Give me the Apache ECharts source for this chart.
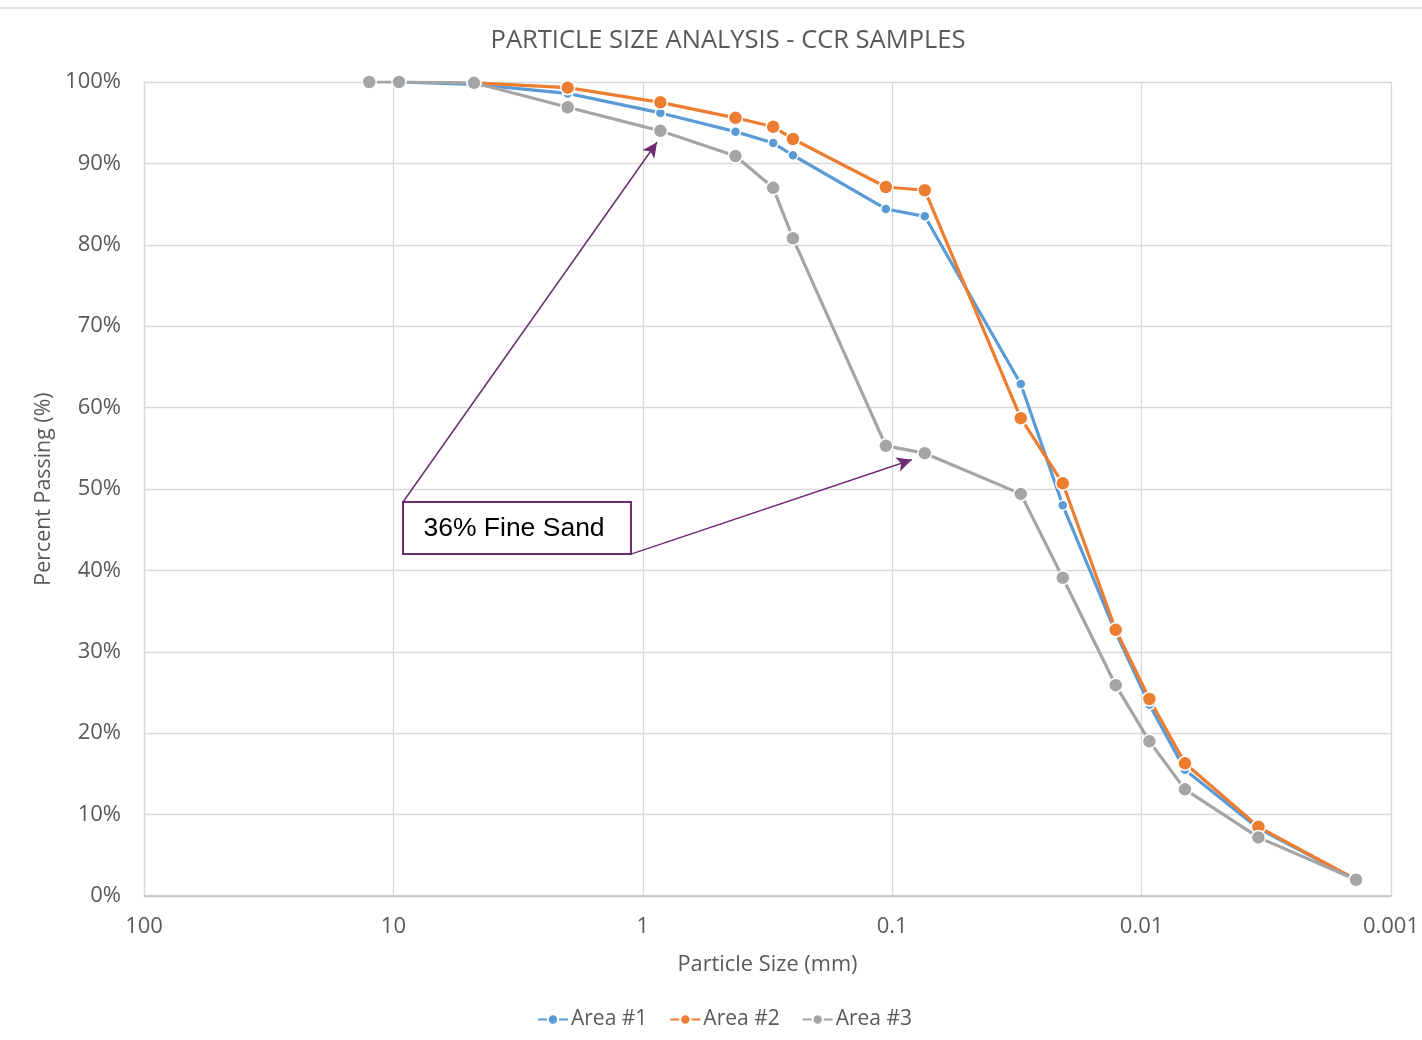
<!DOCTYPE html>
<html>
<head>
<meta charset="utf-8">
<script src="https://cdn.jsdelivr.net/npm/echarts@6/dist/echarts.min.js"></script>
<style>
html,body{margin:0;padding:0;background:#fff;}
#chart{width:1422px;height:1040px;}
</style>
</head>
<body>
<div id="chart"></div>
<script>
// Particle sizes (mm)
const sizes = [12.5, 9.5, 4.75, 2.0, 0.85, 0.425, 0.3, 0.25, 0.106, 0.074, 0.0305, 0.0207, 0.0127, 0.0093, 0.0067, 0.0034, 0.00138];
// Percent passing
const area1 = [null, 100, 99.7, 98.6, 96.2, 93.9, 92.5, 91.0, 84.4, 83.5, 62.9, 48.0, 32.4, 23.5, 15.5, 8.3, 2.0];
const area2 = [null, null, 99.9, 99.3, 97.5, 95.6, 94.5, 93.0, 87.1, 86.7, 58.7, 50.7, 32.7, 24.2, 16.3, 8.5, 2.0];
const area3 = [100, 100, 99.9, 96.9, 94.0, 90.9, 87.0, 80.8, 55.3, 54.4, 49.4, 39.1, 25.9, 19.0, 13.1, 7.2, 2.0];
const seriesNames = ['Area #1', 'Area #2', 'Area #3'];
const xTickLabels = {'100':'100','10':'10','1':'1','0.1':'0.1','0.01':'0.01','0.001':'0.001'};
// Annotation anchor points (data coordinates: size mm, percent)
const noteBoxFrom = [9.15, 48.4];
const noteBoxTo = [1.115, 42.0];
const arrow1Tip = [0.877, 92.6];
const arrow2Tip = [0.0834, 53.6];
const noteText = '36% Fine Sand';

const colors = ['#5B9BD5', '#ED7D31', '#A5A5A5'];
const FONT = 'Open Sans';
const pairs = vals => sizes.map((s, i) => [s, vals[i]]).filter(p => p[1] !== null);

const chart = echarts.init(document.getElementById('chart'), null, {renderer: 'canvas'});
const mkSeries = (name, vals, color, size) => ({
  name, type: 'line', data: pairs(vals),
  symbol: 'circle', symbolSize: size, showAllSymbol: true,
  lineStyle: {color, width: 3.2},
  itemStyle: {color, borderColor: '#fff', borderWidth: 1.5},
  emphasis: {disabled: true},
  animation: false
});
const s1 = mkSeries(seriesNames[0], area1, colors[0], 10);
const s2 = mkSeries(seriesNames[1], area2, colors[1], 14);
const s3 = mkSeries(seriesNames[2], area3, colors[2], 14);
s3.markLine = {
  silent: true, animation: false,
  symbol: ['none', 'arrow'], symbolSize: [11, 15],
  label: {show: false},
  lineStyle: {color: '#6B2C72', width: 1.5, type: 'solid'},
  data: [
    [{coord: [noteBoxFrom[0], noteBoxFrom[1]]}, {coord: arrow1Tip}],
    [{coord: [noteBoxTo[0], noteBoxTo[1]]}, {coord: arrow2Tip}]
  ]
};
s3.markArea = {
  silent: true, animation: false,
  itemStyle: {color: '#fff', borderColor: '#6B2C72', borderWidth: 2},
  label: {show: true, position: 'inside', color: '#000', fontFamily: 'Liberation Sans', fontSize: 26.5, offset: [-3, 1]},
  data: [[{coord: noteBoxFrom, name: noteText}, {coord: noteBoxTo}]]
};

chart.setOption({
  backgroundColor: '#fff',
  color: colors,
  animation: false,
  title: {
    text: 'PARTICLE SIZE ANALYSIS - CCR SAMPLES',
    top: 23, left: 723, textAlign: 'center',
    textStyle: {fontFamily: FONT, fontSize: 25.5, fontWeight: 'normal', color: '#595959'}
  },
  legend: {
    bottom: 5, left: 532,
    itemWidth: 30, itemHeight: 13, itemGap: 22,
    textStyle: {fontFamily: FONT, fontSize: 21, color: '#595959', padding: [0, 0, 0, -2]},
    data: seriesNames
  },
  grid: {left: 144, right: 31, top: 82, bottom: 144, containLabel: false},
  xAxis: {
    type: 'log', logBase: 10, inverse: true, min: 0.001, max: 100,
    name: 'Particle Size (mm)', nameLocation: 'middle', nameGap: 58,
    nameTextStyle: {fontFamily: FONT, fontSize: 21.8, color: '#595959'},
    axisLine: {show: true, lineStyle: {color: '#bfbfbf', width: 1.5}},
    axisTick: {show: false},
    axisLabel: {
      fontFamily: FONT, fontSize: 22, color: '#595959', margin: 20,
      formatter: v => { const k = String(+v.toPrecision(3)); return xTickLabels[k] !== undefined ? xTickLabels[k] : k; }
    },
    splitLine: {show: true, lineStyle: {color: '#d9d9d9', width: 1.3}}
  },
  yAxis: {
    type: 'value', min: 0, max: 100, interval: 10,
    name: 'Percent Passing (%)', nameLocation: 'middle', nameGap: 86,
    nameTextStyle: {fontFamily: FONT, fontSize: 21.4, color: '#595959'},
    axisLine: {show: true, lineStyle: {color: '#d9d9d9', width: 1.3}},
    axisTick: {show: false},
    axisLabel: {fontFamily: FONT, fontSize: 22, color: '#595959', margin: 23, formatter: v => v + '%'},
    splitLine: {show: true, lineStyle: {color: '#d9d9d9', width: 1.3}}
  },
  graphic: [{
    type: 'line', silent: true,
    shape: {x1: 0, y1: 8, x2: 1422, y2: 8},
    style: {stroke: '#d9d9d9', lineWidth: 1.5}
  }],
  series: [s1, s2, s3]
});
</script>
</body>
</html>
